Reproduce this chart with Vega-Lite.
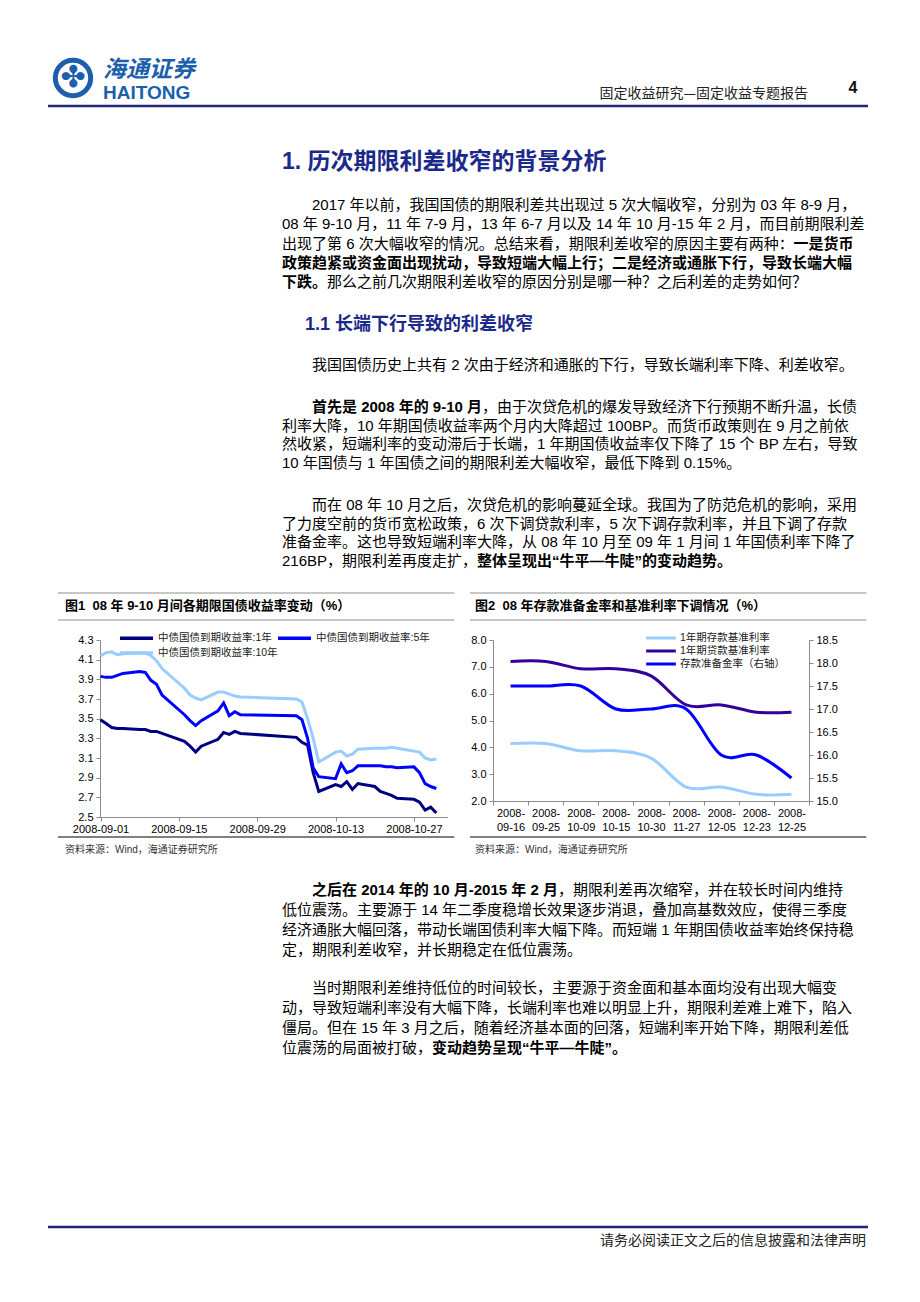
{
  "$schema": "https://vega.github.io/schema/vega-lite/v6.json",
  "width": 920,
  "height": 1302,
  "padding": 0,
  "autosize": {"type": "none"},
  "background": "#ffffff",
  "config": {
    "view": {"stroke": null},
    "font": "Liberation Sans",
    "axis": {"grid": false, "title": null, "domainColor": "#8a8a8a", "tickColor": "#8a8a8a", "labelColor": "#000000", "labelFont": "Liberation Sans", "labelFontSize": 11, "tickSize": 4, "domainWidth": 1, "labelOverlap": false, "labelFlush": false},
    "legend": {"labelFont": "Liberation Sans, Noto Sans CJK SC", "labelFontSize": 10.5, "labelColor": "#222222", "labelLimit": 300}
  },
  "datasets": {
    "page": [
      {"slot": 0, "text": ""},
      {"slot": 1, "text": "✤"},
      {"slot": 2, "text": "海通证券"},
      {"slot": 3, "text": "HAITONG"},
      {"slot": 4, "text": "固定收益研究—固定收益专题报告"},
      {"slot": 5, "text": "4"},
      {"slot": 6, "text": "请务必阅读正文之后的信息披露和法律声明"},
      {"slot": 7, "text": "图1\u00a0\u00a008 年 9-10 月间各期限国债收益率变动（%）"},
      {"slot": 8, "text": "图2\u00a0\u00a008 年存款准备金率和基准利率下调情况（%）"},
      {"slot": 9, "text": "资料来源：Wind，海通证券研究所"},
      {"slot": 10, "text": "资料来源：Wind，海通证券研究所"}
    ],
    "headings": [
      {"line": 0, "col": 0, "level": 1, "text": "1. 历次期限利差收窄的背景分析"},
      {"line": 6, "col": 1.53, "level": 2, "text": "1.1 长端下行导致的利差收窄"}
    ],
    "body": [
      {"line": 1, "col": 2, "text": "2017 年以前，我国国债的期限利差共出现过 5 次大幅收窄，分别为 03 年 8-9 月，"},
      {"line": 2, "col": 0, "text": "08 年 9-10 月，11 年 7-9 月，13 年 6-7 月以及 14 年 10 月-15 年 2 月，而目前期限利差"},
      {"line": 3, "col": 0, "text": "出现了第 6 次大幅收窄的情况。总结来看，期限利差收窄的原因主要有两种："},
      {"line": 5, "col": 3, "text": "那么之前几次期限利差收窄的原因分别是哪一种？之后利差的走势如何？"},
      {"line": 7, "col": 2, "text": "我国国债历史上共有 2 次由于经济和通胀的下行，导致长端利率下降、利差收窄。"},
      {"line": 8, "col": 13.34, "text": "，由于次贷危机的爆发导致经济下行预期不断升温，长债"},
      {"line": 9, "col": 0, "text": "利率大降，10 年期国债收益率两个月内大降超过 100BP。而货币政策则在 9 月之前依"},
      {"line": 10, "col": 0, "text": "然收紧，短端利率的变动滞后于长端，1 年期国债收益率仅下降了 15 个 BP 左右，导致"},
      {"line": 11, "col": 0, "text": "10 年国债与 1 年国债之间的期限利差大幅收窄，最低下降到 0.15%。"},
      {"line": 12, "col": 2, "text": "而在 08 年 10 月之后，次贷危机的影响蔓延全球。我国为了防范危机的影响，采用"},
      {"line": 13, "col": 0, "text": "了力度空前的货币宽松政策，6 次下调贷款利率，5 次下调存款利率，并且下调了存款"},
      {"line": 14, "col": 0, "text": "准备金率。这也导致短端利率大降，从 08 年 10 月至 09 年 1 月间 1 年国债利率下降了"},
      {"line": 15, "col": 0, "text": "216BP，期限利差再度走扩，"},
      {"line": 16, "col": 18.4, "text": "，期限利差再次缩窄，并在较长时间内维持"},
      {"line": 17, "col": 0, "text": "低位震荡。主要源于 14 年二季度稳增长效果逐步消退，叠加高基数效应，使得三季度"},
      {"line": 18, "col": 0, "text": "经济通胀大幅回落，带动长端国债利率大幅下降。而短端 1 年期国债收益率始终保持稳"},
      {"line": 19, "col": 0, "text": "定，期限利差收窄，并长期稳定在低位震荡。"},
      {"line": 20, "col": 2, "text": "当时期限利差维持低位的时间较长，主要源于资金面和基本面均没有出现大幅变"},
      {"line": 21, "col": 0, "text": "动，导致短端利率没有大幅下降，长端利率也难以明显上升，期限利差难上难下，陷入"},
      {"line": 22, "col": 0, "text": "僵局。但在 15 年 3 月之后，随着经济基本面的回落，短端利率开始下降，期限利差低"},
      {"line": 23, "col": 0, "text": "位震荡的局面被打破，"}
    ],
    "bold": [
      {"line": 3, "col": 34.1, "text": "一是货币"},
      {"line": 4, "col": 0, "text": "政策趋紧或资金面出现扰动，导致短端大幅上行；二是经济或通胀下行，导致长端大幅"},
      {"line": 5, "col": 0, "text": "下跌。"},
      {"line": 8, "col": 2, "text": "首先是 2008 年的 9-10 月"},
      {"line": 15, "col": 13.0, "text": "整体呈现出“牛平—牛陡”的变动趋势。"},
      {"line": 16, "col": 2, "text": "之后在 2014 年的 10 月-2015 年 2 月"},
      {"line": 23, "col": 10, "text": "变动趋势呈现“牛平—牛陡”。"}
    ],
    "yields": [
      {"date": "2008/09/01", "1年": 3.49, "5年": 3.93, "10年": 4.14},
      {"date": "2008/09/02", "1年": 3.45, "5年": 3.92, "10年": 4.17},
      {"date": "2008/09/03", "1年": 3.41, "5年": 3.92, "10年": 4.18},
      {"date": "2008/09/04", "1年": 3.40, "5年": 3.94, "10年": 4.15},
      {"date": "2008/09/05", "1年": 3.40, "5年": 3.96, "10年": 4.16},
      {"date": "2008/09/08", "1年": 3.39, "5年": 3.98, "10年": 4.17},
      {"date": "2008/09/09", "1年": 3.39, "5年": 3.97, "10年": 4.17},
      {"date": "2008/09/10", "1年": 3.37, "5年": 3.89, "10年": 4.14},
      {"date": "2008/09/11", "1年": 3.37, "5年": 3.85, "10年": 4.09},
      {"date": "2008/09/12", "1年": 3.35, "5年": 3.74, "10年": 4.01},
      {"date": "2008/09/16", "1年": 3.27, "5年": 3.54, "10年": 3.81},
      {"date": "2008/09/17", "1年": 3.22, "5年": 3.48, "10年": 3.74},
      {"date": "2008/09/18", "1年": 3.16, "5年": 3.43, "10年": 3.71},
      {"date": "2008/09/19", "1年": 3.22, "5年": 3.48, "10年": 3.69},
      {"date": "2008/09/22", "1年": 3.29, "5年": 3.58, "10年": 3.77},
      {"date": "2008/09/23", "1年": 3.36, "5年": 3.66, "10年": 3.77},
      {"date": "2008/09/24", "1年": 3.34, "5年": 3.53, "10年": 3.75},
      {"date": "2008/09/25", "1年": 3.37, "5年": 3.57, "10年": 3.73},
      {"date": "2008/09/26", "1年": 3.35, "5年": 3.54, "10年": 3.72},
      {"date": "2008/10/06", "1年": 3.31, "5年": 3.53, "10年": 3.70},
      {"date": "2008/10/07", "1年": 3.26, "5年": 3.49, "10年": 3.67},
      {"date": "2008/10/08", "1年": 3.23, "5年": 3.30, "10年": 3.50},
      {"date": "2008/10/09", "1年": 2.95, "5年": 3.00, "10年": 3.30},
      {"date": "2008/10/10", "1年": 2.76, "5年": 2.91, "10年": 3.06},
      {"date": "2008/10/13", "1年": 2.83, "5年": 2.89, "10年": 3.16},
      {"date": "2008/10/14", "1年": 2.81, "5年": 3.04, "10年": 3.17},
      {"date": "2008/10/15", "1年": 2.86, "5年": 2.95, "10年": 3.12},
      {"date": "2008/10/16", "1年": 2.78, "5年": 2.97, "10年": 3.14},
      {"date": "2008/10/17", "1年": 2.84, "5年": 3.02, "10年": 3.19},
      {"date": "2008/10/20", "1年": 2.81, "5年": 3.02, "10年": 3.20},
      {"date": "2008/10/21", "1年": 2.76, "5年": 3.02, "10年": 3.20},
      {"date": "2008/10/22", "1年": 2.74, "5年": 3.01, "10年": 3.20},
      {"date": "2008/10/23", "1年": 2.72, "5年": 3.01, "10年": 3.21},
      {"date": "2008/10/24", "1年": 2.69, "5年": 3.00, "10年": 3.20},
      {"date": "2008/10/27", "1年": 2.68, "5年": 3.01, "10年": 3.17},
      {"date": "2008/10/28", "1年": 2.65, "5年": 2.95, "10年": 3.16},
      {"date": "2008/10/29", "1年": 2.57, "5年": 2.84, "10年": 3.10},
      {"date": "2008/10/30", "1年": 2.60, "5年": 2.81, "10年": 3.08},
      {"date": "2008/10/31", "1年": 2.54, "5年": 2.79, "10年": 3.09}
    ],
    "rates": [
      {"date": "2008-09-16", "1年期存款基准利率": 4.14, "1年期贷款基准利率": 7.20, "存款准备金率（右轴）": 17.5},
      {"date": "2008-09-25", "1年期存款基准利率": 4.14, "1年期贷款基准利率": 7.20, "存款准备金率（右轴）": 17.5},
      {"date": "2008-10-09", "1年期存款基准利率": 3.87, "1年期贷款基准利率": 6.93, "存款准备金率（右轴）": 17.5},
      {"date": "2008-10-15", "1年期存款基准利率": 3.87, "1年期贷款基准利率": 6.93, "存款准备金率（右轴）": 17.0},
      {"date": "2008-10-30", "1年期存款基准利率": 3.60, "1年期贷款基准利率": 6.66, "存款准备金率（右轴）": 17.0},
      {"date": "2008-11-27", "1年期存款基准利率": 2.52, "1年期贷款基准利率": 5.58, "存款准备金率（右轴）": 17.0},
      {"date": "2008-12-05", "1年期存款基准利率": 2.52, "1年期贷款基准利率": 5.58, "存款准备金率（右轴）": 16.0},
      {"date": "2008-12-23", "1年期存款基准利率": 2.25, "1年期贷款基准利率": 5.31, "存款准备金率（右轴）": 16.0},
      {"date": "2008-12-25", "1年期存款基准利率": 2.25, "1年期贷款基准利率": 5.31, "存款准备金率（右轴）": 15.5}
    ]
  },
  "resolve": {
    "scale": {"x": "independent", "y": "independent", "color": "independent", "size": "independent"},
    "axis": {"x": "independent", "y": "independent"},
    "legend": {"color": "independent", "size": "independent"}
  },
  "layer": [
    {
      "data": {"values": [{"rule": 0, "where": "header"}, {"rule": 1, "where": "footer"}]},
      "mark": {"type": "rule", "color": "#23237a", "strokeWidth": 2.5},
      "encoding": {
        "x": {"datum": 0, "type": "quantitative", "scale": {"domain": [0, 1], "range": [48, 868], "nice": false, "zero": false}, "axis": null},
        "x2": {"datum": 1},
        "y": {"field": "rule", "type": "quantitative", "scale": {"domain": [0, 1], "range": [106, 1227], "nice": false, "zero": false}, "axis": null}
      }
    },
    {
      "data": {"values": [{"panel": 1, "edge": 0}, {"panel": 1, "edge": 1}, {"panel": 1, "edge": 2}, {"panel": 2, "edge": 0}, {"panel": 2, "edge": 1}, {"panel": 2, "edge": 2}]},
      "transform": [{"calculate": "datum.panel + 0.962", "as": "panelEnd"}],
      "mark": {"type": "rule", "strokeWidth": 1.3},
      "encoding": {
        "x": {"field": "panel", "type": "quantitative", "scale": {"domain": [1, 2], "range": [58, 470], "nice": false, "zero": false}, "axis": null},
        "x2": {"field": "panelEnd"},
        "y": {"field": "edge", "type": "quantitative", "scale": {"domain": [0, 1, 2], "range": [593, 620, 837], "nice": false, "zero": false}, "axis": null},
        "color": {"field": "edge", "type": "ordinal", "scale": {"domain": [0, 1, 2], "range": ["#b5b5b5", "#b5b5b5", "#555555"]}, "legend": null}
      }
    },
    {
      "data": {"name": "page"},
      "transform": [{"filter": "datum.slot == 0"}],
      "mark": {"type": "point", "shape": "circle", "filled": false, "stroke": "#1b5fad", "strokeWidth": 5, "size": 1250, "opacity": 1},
      "encoding": {
        "x": {"field": "slot", "type": "quantitative", "scale": {"domain": [0, 1, 2, 3, 4, 5, 6, 7, 8, 9, 10], "range": [73, 73, 103, 103, 808, 853, 866, 65, 475, 65, 475], "nice": false, "zero": false}, "axis": null},
        "y": {"field": "slot", "type": "quantitative", "scale": {"domain": [0, 1, 2, 3, 4, 5, 6, 7, 8, 9, 10], "range": [78, 78, 70, 93, 94, 88, 1241, 606, 606, 850, 850], "nice": false, "zero": false}, "axis": null}
      }
    },
    {
      "data": {"name": "page"},
      "transform": [{"filter": "datum.slot == 1"}],
      "mark": {"type": "text", "font": "DejaVu Sans", "fontSize": 30, "color": "#1b5fad", "align": "center", "baseline": "middle"},
      "encoding": {
        "x": {"field": "slot", "type": "quantitative", "scale": {"domain": [0, 1, 2, 3, 4, 5, 6, 7, 8, 9, 10], "range": [73, 73, 103, 103, 808, 853, 866, 65, 475, 65, 475], "nice": false, "zero": false}, "axis": null},
        "y": {"field": "slot", "type": "quantitative", "scale": {"domain": [0, 1, 2, 3, 4, 5, 6, 7, 8, 9, 10], "range": [78, 78, 70, 93, 94, 88, 1241, 606, 606, 850, 850], "nice": false, "zero": false}, "axis": null},
        "text": {"field": "text"}
      }
    },
    {
      "data": {"name": "page"},
      "transform": [{"filter": "datum.slot == 2"}],
      "mark": {"type": "text", "font": "Noto Sans CJK SC", "fontSize": 23, "fontWeight": "bold", "fontStyle": "italic", "color": "#1b5fad", "align": "left", "baseline": "middle"},
      "encoding": {
        "x": {"field": "slot", "type": "quantitative", "scale": {"domain": [0, 1, 2, 3, 4, 5, 6, 7, 8, 9, 10], "range": [73, 73, 103, 103, 808, 853, 866, 65, 475, 65, 475], "nice": false, "zero": false}, "axis": null},
        "y": {"field": "slot", "type": "quantitative", "scale": {"domain": [0, 1, 2, 3, 4, 5, 6, 7, 8, 9, 10], "range": [78, 78, 70, 93, 94, 88, 1241, 606, 606, 850, 850], "nice": false, "zero": false}, "axis": null},
        "text": {"field": "text"}
      }
    },
    {
      "data": {"name": "page"},
      "transform": [{"filter": "datum.slot == 3"}],
      "mark": {"type": "text", "font": "Liberation Sans", "fontSize": 19, "fontWeight": "bold", "color": "#1b5fad", "align": "left", "baseline": "middle"},
      "encoding": {
        "x": {"field": "slot", "type": "quantitative", "scale": {"domain": [0, 1, 2, 3, 4, 5, 6, 7, 8, 9, 10], "range": [73, 73, 103, 103, 808, 853, 866, 65, 475, 65, 475], "nice": false, "zero": false}, "axis": null},
        "y": {"field": "slot", "type": "quantitative", "scale": {"domain": [0, 1, 2, 3, 4, 5, 6, 7, 8, 9, 10], "range": [78, 78, 70, 93, 94, 88, 1241, 606, 606, 850, 850], "nice": false, "zero": false}, "axis": null},
        "text": {"field": "text"}
      }
    },
    {
      "data": {"name": "page"},
      "transform": [{"filter": "datum.slot == 4 || datum.slot == 6"}],
      "mark": {"type": "text", "font": "Noto Sans CJK SC", "fontSize": 14, "color": "#222222", "align": "right", "baseline": "middle"},
      "encoding": {
        "x": {"field": "slot", "type": "quantitative", "scale": {"domain": [0, 1, 2, 3, 4, 5, 6, 7, 8, 9, 10], "range": [73, 73, 103, 103, 808, 853, 866, 65, 475, 65, 475], "nice": false, "zero": false}, "axis": null},
        "y": {"field": "slot", "type": "quantitative", "scale": {"domain": [0, 1, 2, 3, 4, 5, 6, 7, 8, 9, 10], "range": [78, 78, 70, 93, 94, 88, 1241, 606, 606, 850, 850], "nice": false, "zero": false}, "axis": null},
        "text": {"field": "text"}
      }
    },
    {
      "data": {"name": "page"},
      "transform": [{"filter": "datum.slot == 5"}],
      "mark": {"type": "text", "font": "Liberation Sans", "fontSize": 16, "fontWeight": "bold", "color": "#111111", "align": "center", "baseline": "middle"},
      "encoding": {
        "x": {"field": "slot", "type": "quantitative", "scale": {"domain": [0, 1, 2, 3, 4, 5, 6, 7, 8, 9, 10], "range": [73, 73, 103, 103, 808, 853, 866, 65, 475, 65, 475], "nice": false, "zero": false}, "axis": null},
        "y": {"field": "slot", "type": "quantitative", "scale": {"domain": [0, 1, 2, 3, 4, 5, 6, 7, 8, 9, 10], "range": [78, 78, 70, 93, 94, 88, 1241, 606, 606, 850, 850], "nice": false, "zero": false}, "axis": null},
        "text": {"field": "text"}
      }
    },
    {
      "data": {"name": "page"},
      "transform": [{"filter": "datum.slot == 7 || datum.slot == 8"}],
      "mark": {"type": "text", "font": "Liberation Sans, Noto Sans CJK SC", "fontSize": 13, "fontWeight": "bold", "color": "#000000", "align": "left", "baseline": "middle"},
      "encoding": {
        "x": {"field": "slot", "type": "quantitative", "scale": {"domain": [0, 1, 2, 3, 4, 5, 6, 7, 8, 9, 10], "range": [73, 73, 103, 103, 808, 853, 866, 65, 475, 65, 475], "nice": false, "zero": false}, "axis": null},
        "y": {"field": "slot", "type": "quantitative", "scale": {"domain": [0, 1, 2, 3, 4, 5, 6, 7, 8, 9, 10], "range": [78, 78, 70, 93, 94, 88, 1241, 606, 606, 850, 850], "nice": false, "zero": false}, "axis": null},
        "text": {"field": "text"}
      }
    },
    {
      "data": {"name": "page"},
      "transform": [{"filter": "datum.slot == 9 || datum.slot == 10"}],
      "mark": {"type": "text", "font": "Liberation Sans, Noto Sans CJK SC", "fontSize": 10, "color": "#333333", "align": "left", "baseline": "middle"},
      "encoding": {
        "x": {"field": "slot", "type": "quantitative", "scale": {"domain": [0, 1, 2, 3, 4, 5, 6, 7, 8, 9, 10], "range": [73, 73, 103, 103, 808, 853, 866, 65, 475, 65, 475], "nice": false, "zero": false}, "axis": null},
        "y": {"field": "slot", "type": "quantitative", "scale": {"domain": [0, 1, 2, 3, 4, 5, 6, 7, 8, 9, 10], "range": [78, 78, 70, 93, 94, 88, 1241, 606, 606, 850, 850], "nice": false, "zero": false}, "axis": null},
        "text": {"field": "text"}
      }
    },
    {
      "data": {"name": "headings"},
      "mark": {"type": "text", "font": "Liberation Sans, Noto Sans CJK SC", "fontWeight": "bold", "color": "#1b2a8a", "align": "left", "baseline": "middle"},
      "encoding": {
        "x": {"field": "col", "type": "quantitative", "scale": {"domain": [0, 40], "range": [282, 882], "nice": false, "zero": false}, "axis": null},
        "y": {"field": "line", "type": "quantitative", "scale": {"domain": [0, 1, 5, 6, 7, 8, 11, 12, 15, 16, 19, 20, 23], "range": [162, 205, 282, 325, 365, 407, 463, 505, 561, 890, 950, 988, 1048], "nice": false, "zero": false}, "axis": null},
        "size": {"field": "level", "type": "quantitative", "scale": {"domain": [1, 2], "range": [23, 18]}, "legend": null},
        "text": {"field": "text"}
      }
    },
    {
      "data": {"name": "body"},
      "mark": {"type": "text", "font": "Liberation Sans, Noto Sans CJK SC", "fontSize": 15, "color": "#000000", "align": "left", "baseline": "middle"},
      "encoding": {
        "x": {"field": "col", "type": "quantitative", "scale": {"domain": [0, 40], "range": [282, 882], "nice": false, "zero": false}, "axis": null},
        "y": {"field": "line", "type": "quantitative", "scale": {"domain": [0, 1, 5, 6, 7, 8, 11, 12, 15, 16, 19, 20, 23], "range": [162, 205, 282, 325, 365, 407, 463, 505, 561, 890, 950, 988, 1048], "nice": false, "zero": false}, "axis": null},
        "text": {"field": "text"}
      }
    },
    {
      "data": {"name": "bold"},
      "mark": {"type": "text", "font": "Liberation Sans, Noto Sans CJK SC", "fontSize": 15, "fontWeight": "bold", "color": "#000000", "align": "left", "baseline": "middle"},
      "encoding": {
        "x": {"field": "col", "type": "quantitative", "scale": {"domain": [0, 40], "range": [282, 882], "nice": false, "zero": false}, "axis": null},
        "y": {"field": "line", "type": "quantitative", "scale": {"domain": [0, 1, 5, 6, 7, 8, 11, 12, 15, 16, 19, 20, 23], "range": [162, 205, 282, 325, 365, 407, 463, 505, 561, 890, 950, 988, 1048], "nice": false, "zero": false}, "axis": null},
        "text": {"field": "text"}
      }
    },
    {
      "data": {"name": "yields"},
      "transform": [{"fold": ["1年", "5年", "10年"], "as": ["series", "value"]}],
      "mark": {"type": "line", "strokeWidth": 3},
      "encoding": {
        "x": {"field": "date", "type": "temporal",
              "scale": {"domain": [{"year": 2008, "month": 9, "date": 1}, {"year": 2008, "month": 11, "date": 2}], "range": [100.5, 447.5], "nice": false},
              "axis": {"orient": "bottom", "offset": -485, "format": "%Y-%m-%d", "labelPadding": 2,
                       "values": [{"year": 2008, "month": 9, "date": 1}, {"year": 2008, "month": 9, "date": 15}, {"year": 2008, "month": 9, "date": 29}, {"year": 2008, "month": 10, "date": 13}, {"year": 2008, "month": 10, "date": 27}]}},
        "y": {"field": "value", "type": "quantitative",
              "scale": {"domain": [2.5, 4.3], "range": [817, 640], "nice": false, "zero": false},
              "axis": {"orient": "left", "offset": -100, "format": ".1f", "labelPadding": 3, "values": [2.5, 2.7, 2.9, 3.1, 3.3, 3.5, 3.7, 3.9, 4.1, 4.3]}},
        "color": {"field": "series", "type": "nominal",
                  "scale": {"domain": ["1年", "10年", "5年"], "range": ["#000080", "#99ccff", "#0000ff"]},
                  "legend": {"title": null, "orient": "none", "legendX": 129, "legendY": 630.5, "columns": 2, "columnPadding": -7, "rowPadding": 0,
                             "symbolType": "M-3,0H3", "symbolSize": 121, "symbolStrokeWidth": 3.5, "labelOffset": 14,
                             "labelExpr": "'中债国债到期收益率:' + datum.label"}}
      }
    },
    {
      "data": {"name": "rates"},
      "resolve": {"scale": {"y": "independent"}, "axis": {"y": "independent"}},
      "layer": [
        {
          "transform": [{"fold": ["1年期存款基准利率", "1年期贷款基准利率"], "as": ["series", "value"]}],
          "mark": {"type": "line", "strokeWidth": 3, "interpolate": "cardinal"},
          "encoding": {
            "x": {"field": "date", "type": "nominal", "bandPosition": 0.5,
                  "scale": {"type": "band", "domain": ["2008-09-16", "2008-09-25", "2008-10-09", "2008-10-15", "2008-10-30", "2008-11-27", "2008-12-05", "2008-12-23", "2008-12-25"], "range": [493, 809], "paddingInner": 0, "paddingOuter": 0},
                  "axis": {"orient": "bottom", "offset": -501, "tickBand": "extent", "labelAngle": 0, "labelPadding": 2, "labelLineHeight": 14,
                           "labelExpr": "[substring(datum.label, 0, 5), substring(datum.label, 5)]"}},
            "y": {"field": "value", "type": "quantitative",
                  "scale": {"domain": [2, 8], "range": [801, 640], "nice": false, "zero": false},
                  "axis": {"orient": "left", "offset": -493, "format": ".1f", "labelPadding": 3, "values": [2, 3, 4, 5, 6, 7, 8]}},
            "color": {"field": "series", "type": "nominal",
                      "scale": {"domain": ["1年期存款基准利率", "1年期贷款基准利率", "存款准备金率（右轴）"], "range": ["#99ccff", "#330099", "#0000ff"]},
                      "legend": {"title": null, "orient": "none", "legendX": 654, "legendY": 631, "rowPadding": 0,
                                 "symbolType": "M-2.7,0H2.7", "symbolSize": 121, "symbolStrokeWidth": 3, "labelOffset": 12}}
          }
        },
        {
          "transform": [{"fold": ["存款准备金率（右轴）"], "as": ["series", "value"]}],
          "mark": {"type": "line", "strokeWidth": 3, "interpolate": "cardinal"},
          "encoding": {
            "x": {"field": "date", "type": "nominal", "bandPosition": 0.5,
                  "scale": {"type": "band", "domain": ["2008-09-16", "2008-09-25", "2008-10-09", "2008-10-15", "2008-10-30", "2008-11-27", "2008-12-05", "2008-12-23", "2008-12-25"], "range": [493, 809], "paddingInner": 0, "paddingOuter": 0},
                  "axis": {"orient": "bottom", "offset": -501, "tickBand": "extent", "labelAngle": 0, "labelPadding": 2, "labelLineHeight": 14,
                           "labelExpr": "[substring(datum.label, 0, 5), substring(datum.label, 5)]"}},
            "y": {"field": "value", "type": "quantitative",
                  "scale": {"domain": [15, 18.5], "range": [801, 640], "nice": false, "zero": false},
                  "axis": {"orient": "right", "offset": -111, "format": ".1f", "labelPadding": 3, "values": [15, 15.5, 16, 16.5, 17, 17.5, 18, 18.5]}},
            "color": {"field": "series", "type": "nominal",
                      "scale": {"domain": ["1年期存款基准利率", "1年期贷款基准利率", "存款准备金率（右轴）"], "range": ["#99ccff", "#330099", "#0000ff"]},
                      "legend": {"title": null, "orient": "none", "legendX": 654, "legendY": 631, "rowPadding": 0,
                                 "symbolType": "M-2.7,0H2.7", "symbolSize": 121, "symbolStrokeWidth": 3, "labelOffset": 12}}
          }
        }
      ]
    }
  ]
}
